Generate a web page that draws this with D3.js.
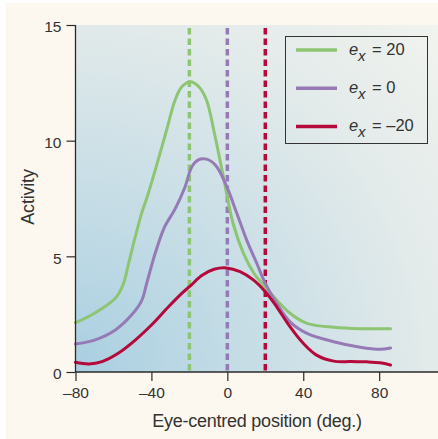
<!DOCTYPE html>
<html>
<head>
<meta charset="utf-8">
<script src="https://cdn.jsdelivr.net/npm/d3@7"></script>
<style>
html,body{margin:0;padding:0;background:#fff;}
svg{display:block;font-family:"Liberation Sans",Arial,sans-serif;}
</style>
</head>
<body>
<svg id="chart" width="438" height="439"></svg>
<script>
// ---- data ----
const xTicks = [-80, -40, 0, 40, 80];
const yTicks = [0, 5, 10, 15];
const seriesNames = ["e_x = 20", "e_x = 0", "e_x = \u201320"];
const eyePositions = [-20, 0, 20]; // dashed reference lines

const greenX = [-80, -70, -59, -55, -52, -48.5, -45, -42.5, -38, -32, -27.5, -24, -19.5, -15, -11, -6.5, -2, 3, 8.5, 14, 19, 26, 33, 42, 56, 70, 86];
const greenY = [2.13, 2.54, 3.19, 3.76, 4.7, 5.85, 6.9, 7.5, 8.73, 10.46, 11.76, 12.33, 12.55, 12.33, 11.76, 10.2, 8.4, 6.43, 5.13, 4.27, 3.76, 3.11, 2.54, 2.1, 1.93, 1.87, 1.87];

const purpleX = [-80, -70, -59, -50.5, -45, -42.5, -38, -33, -27.5, -22.3, -18.7, -15.3, -11, -6, -0.3, 5, 10.2, 15.5, 20, 26, 33, 42, 56, 70, 80.5, 86];
const purpleY = [1.21, 1.38, 1.82, 2.46, 3.11, 3.83, 5.13, 6.28, 7.05, 8.0, 8.87, 9.17, 9.2, 8.92, 8.01, 6.86, 5.7, 4.7, 3.83, 2.97, 2.17, 1.67, 1.31, 1.07, 0.98, 1.04];

const redX = [-80, -73, -66, -57.5, -48.5, -40, -31, -24, -19.5, -13.5, -7, -0.5, 6.7, 13.7, 20, 26, 33, 40, 47, 56, 65, 73.5, 80.5, 86];
const redY = [0.42, 0.35, 0.45, 0.81, 1.38, 2.03, 2.82, 3.4, 3.72, 4.17, 4.44, 4.5, 4.34, 3.98, 3.47, 2.82, 1.96, 1.24, 0.73, 0.47, 0.45, 0.44, 0.4, 0.3];

const colors = ["#8dc572", "#957ab5", "#b5093c"];

// ---- layout ----
const svg = d3.select("#chart");
const pLeft = 75.5, pTop = 25, pBottom = 372, pRight = 438;
const x = d3.scaleLinear().domain([-80, 111]).range([pLeft, pRight]);
const y = d3.scaleLinear().domain([0, 15]).range([pBottom, pTop]);

// background cream panel
svg.append("rect").attr("x", 6).attr("y", 3).attr("width", 432).attr("height", 436).attr("fill", "#fdf8ef");

const defs = svg.append("defs");
const grad = defs.append("radialGradient").attr("id", "bg")
  .attr("gradientUnits", "userSpaceOnUse")
  .attr("cx", pLeft).attr("cy", pBottom).attr("r", 500);
[[0, "#a9cfe1"], [0.35, "#c6dde6"], [0.7, "#e2eaea"], [1, "#f1f3ee"]].forEach(s =>
  grad.append("stop").attr("offset", s[0]).attr("stop-color", s[1]));

svg.append("rect").attr("x", pLeft).attr("y", pTop).attr("width", pRight - pLeft).attr("height", pBottom - pTop).attr("fill", "url(#bg)");

// dashed reference lines
svg.selectAll("line.ref").data(eyePositions).join("line")
  .attr("class", "ref")
  .attr("x1", d => x(d)).attr("x2", d => x(d))
  .attr("y1", 28).attr("y2", pBottom)
  .attr("stroke", (d, i) => colors[i])
  .attr("stroke-width", 3.5)
  .attr("stroke-dasharray", "6.5,4");

// curves
const series = [
  greenX.map((d, i) => [d, greenY[i]]),
  purpleX.map((d, i) => [d, purpleY[i]]),
  redX.map((d, i) => [d, redY[i]])
];
const line = d3.line().x(d => x(d[0])).y(d => y(d[1])).curve(d3.curveCatmullRom.alpha(0.5));
svg.selectAll("path.curve").data(series).join("path")
  .attr("class", "curve")
  .attr("d", line)
  .attr("fill", "none")
  .attr("stroke", (d, i) => colors[i])
  .attr("stroke-width", 3)
  .attr("stroke-linejoin", "round")
  .attr("stroke-linecap", "round");

// axes
const axisColor = "#2a2a2a";
const xAxis = svg.append("g").attr("transform", `translate(0,${pBottom})`)
  .call(d3.axisBottom(x).tickValues(xTicks).tickSize(9).tickPadding(6)
    .tickFormat(d => d < 0 ? "\u2013" + Math.abs(d) : d));
const yAxis = svg.append("g").attr("transform", `translate(${pLeft},0)`)
  .call(d3.axisLeft(y).tickValues(yTicks).tickSize(9).tickPadding(5));
[xAxis, yAxis].forEach(g => {
  g.select(".domain").attr("stroke", axisColor).attr("stroke-width", 1.3);
  g.selectAll(".tick line").attr("stroke", axisColor).attr("stroke-width", 1.2);
  g.selectAll(".tick text").attr("fill", "#333").style("font-size", "15.5px")
    .style("font-family", "'Liberation Sans', Arial, sans-serif");
});
xAxis.select(".domain").attr("d", `M${pLeft},0H${pRight}`);
yAxis.select(".domain").attr("d", `M0,${pTop}V${pBottom}`);
yAxis.selectAll(".tick text").attr("dy", "0.45em");

// axis titles
svg.append("text").attr("x", 257).attr("y", 427)
  .attr("text-anchor", "middle").attr("fill", "#333")
  .style("font-size", "18px").style("letter-spacing", "-0.25px")
  .text("Eye-centred position (deg.)");
svg.append("text").attr("transform", "translate(34,197) rotate(-90)")
  .attr("text-anchor", "middle").attr("fill", "#333")
  .style("font-size", "18px").style("letter-spacing", "-0.2px")
  .text("Activity");

// legend
const lg = svg.append("g");
lg.append("rect").attr("x", 285.5).attr("y", 36.5).attr("width", 142).attr("height", 107)
  .attr("fill", "none").attr("stroke", "#333").attr("stroke-width", 1);
const rowY = [50, 88.3, 126.5];
const vals = ["20", "0", "\u201320"];
seriesNames.forEach((name, i) => {
  lg.append("line").attr("x1", 296).attr("x2", 337).attr("y1", rowY[i]).attr("y2", rowY[i])
    .attr("stroke", colors[i]).attr("stroke-width", 3.5);
  const t = lg.append("text").attr("y", rowY[i] + 4.5).attr("fill", "#333").style("font-size", "16.5px");
  t.append("tspan").attr("x", 349).style("font-style", "italic").text("e");
  t.append("tspan").attr("x", 358).attr("dy", 6).style("font-style", "italic").style("font-size", "15px").text("x");
  t.append("tspan").attr("x", 372).attr("dy", -6).text("= " + vals[i]);
});
</script>
</body>
</html>
